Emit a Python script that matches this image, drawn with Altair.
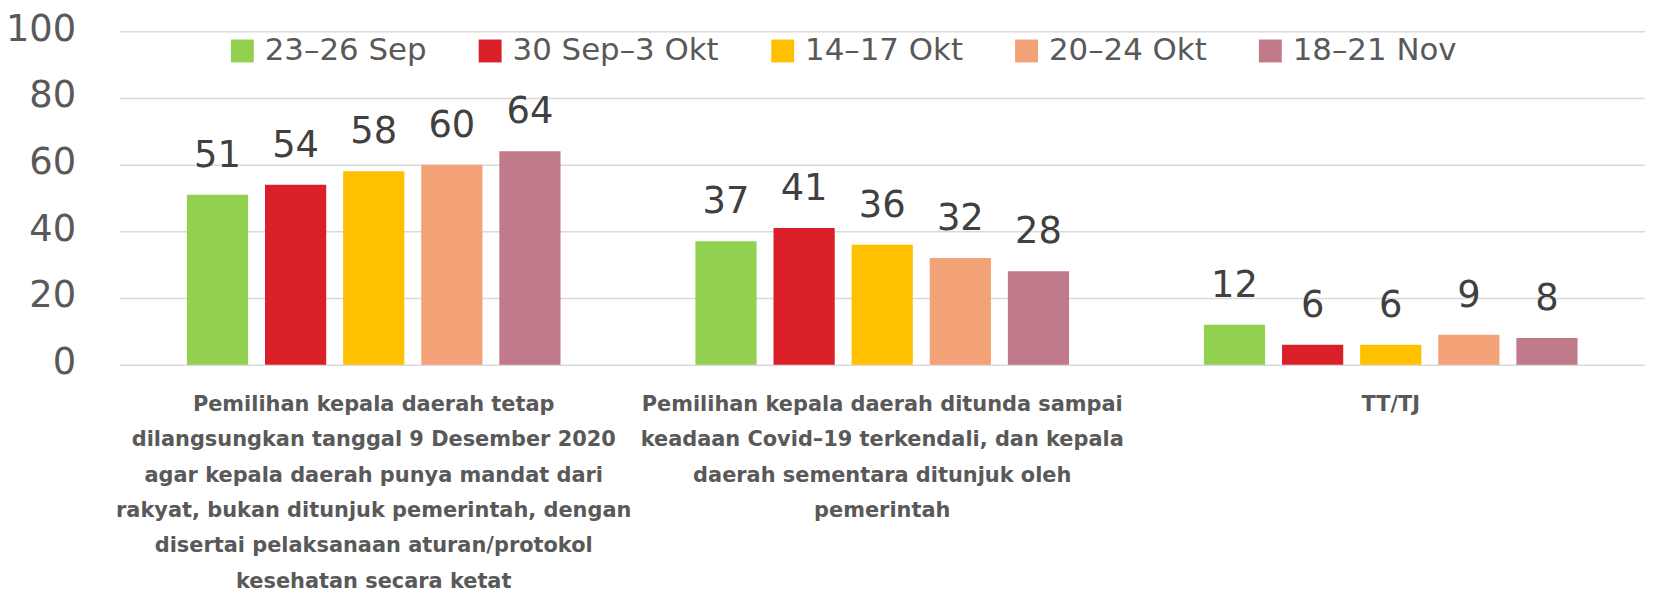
import altair as alt
import pandas as pd

categories = [
    "Pemilihan kepala daerah tetap|dilangsungkan tanggal 9 Desember 2020|agar kepala daerah punya mandat dari|rakyat, bukan ditunjuk pemerintah, dengan|disertai pelaksanaan aturan/protokol|kesehatan secara ketat",
    "Pemilihan kepala daerah ditunda sampai|keadaan Covid–19 terkendali, dan kepala|daerah sementara ditunjuk oleh|pemerintah",
    "TT/TJ",
]
series = ["23–26 Sep", "30 Sep–3 Okt", "14–17 Okt", "20–24 Okt", "18–21 Nov"]
colors = ["#92D050", "#DA1F28", "#FFC000", "#F3A277", "#C07A89"]

v_23_26_sep = [51, 37, 12]
v_30sep_3okt = [54, 41, 6]
v_14_17_okt = [58, 36, 6]
v_20_24_okt = [60, 32, 9]
v_18_21_nov = [64, 28, 8]
all_values = [v_23_26_sep, v_30sep_3okt, v_14_17_okt, v_20_24_okt, v_18_21_nov]

rows = []
for s, vals in zip(series, all_values):
    for c, v in zip(categories, vals):
        rows.append({"kategori": c, "survei": s, "nilai": v})
df = pd.DataFrame(rows)

FONT = "DejaVu Sans"

base = alt.Chart(df).encode(
    x=alt.X(
        "kategori:N",
        sort=categories,
        title=None,
        scale=alt.Scale(paddingInner=0, paddingOuter=0),
        axis=alt.Axis(
            labelExpr="split(datum.value, '|')",
            labelAngle=0,
            labelFont=FONT,
            labelFontSize=21,
            labelFontWeight="bold",
            labelColor="#595959",
            labelLineHeight=35.5,
            labelPadding=29,
            labelLimit=1000,
            labelBaseline="top",
            domain=False,
            ticks=False,
            tickSize=0,
            grid=False,
        ),
    ),
    xOffset=alt.XOffset(
        "survei:N",
        sort=series,
        scale=alt.Scale(paddingInner=0.2166, paddingOuter=0.8634),
    ),
    y=alt.Y(
        "nilai:Q",
        title=None,
        scale=alt.Scale(domain=[0, 100], nice=False, zero=True),
        axis=alt.Axis(
            values=[0, 20, 40, 60, 80, 100],
            labelFont=FONT,
            labelFontSize=37,
            labelColor="#595959",
            labelPadding=44,
            labelBaseline="alphabetic",
            labelOffset=9,
            domain=False,
            ticks=False,
            tickSize=0,
            grid=True,
            gridColor="#D9D9D9",
            gridWidth=1.5,
        ),
    ),
)

bars = base.mark_bar().encode(
    color=alt.Color(
        "survei:N",
        sort=series,
        scale=alt.Scale(domain=series, range=colors),
        legend=alt.Legend(
            title=None,
            orient="none",
            direction="horizontal",
            legendX=108,
            legendY=4,
            symbolType="square",
            symbolSize=529,
            symbolStrokeWidth=0,
            labelFont=FONT,
            labelFontSize=31,
            labelColor="#595959",
            labelOffset=7,
            columnPadding=48,
            padding=0,
            labelLimit=400,
        ),
    )
)

labels = base.mark_text(
    font=FONT, fontSize=37, color="#404040", baseline="alphabetic", dy=-28
).encode(text="nilai:Q")

chart = (
    alt.layer(bars, labels)
    .properties(
        width=1533,
        height=335,
        padding={"left": 112, "top": 22, "right": 0, "bottom": 232},
        autosize=alt.AutoSizeParams(type="none"),
    )
    .configure_view(stroke=None)
)

chart.save("out.html", embed_options={"renderer": "svg", "actions": False})
